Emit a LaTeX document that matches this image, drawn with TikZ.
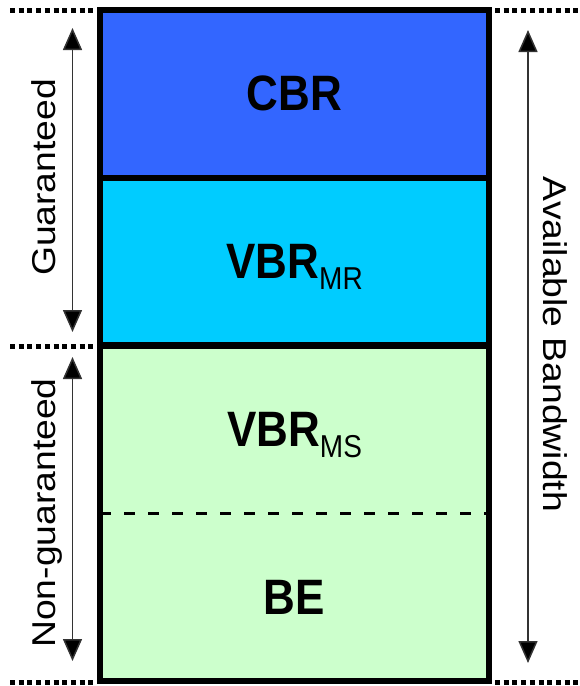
\documentclass[tikz,border=0pt]{standalone}
\usepackage{fontspec}
\setmainfont{Liberation Sans}
\usepackage{graphicx}
\usepackage{xcolor}
\usepackage{tikz}
\usetikzlibrary{
  arrows.meta,
  positioning
}
\definecolor{bandBlue}{HTML}{3366FF}
\definecolor{bandCyan}{HTML}{00CCFF}
\definecolor{bandMint}{HTML}{CCFFCC}
\definecolor{bandLine}{HTML}{000000}
\definecolor{arrowGray}{HTML}{333333}

\newcommand{\classname}[2]{\scalebox{1}[1.13]{\fontsize{44pt}{44pt}\selectfont\bfseries #1\raisebox{-9.5pt}[0pt][0pt]{\fontsize{28pt}{28pt}\selectfont\mdseries #2}}}
\newcommand{\sidename}[1]{\scalebox{1.13}[1]{\fontsize{33pt}{33pt}\selectfont #1}}

\begin{document}
\begin{tikzpicture}[
  x=1pt, y=-1pt,
  node distance=0pt,
  band/.style={
    minimum width=389pt,
    minimum height=167.75pt,
    inner sep=0pt,
    outer sep=0pt,
    align=center
  },
  frame/.style={draw=bandLine, line width=6pt},
  divider/.style={draw=bandLine, line width=6.5pt},
  split/.style={draw=bandLine, line width=3.5pt, dash pattern=on 11pt off 13pt},
  dotrule/.style={draw=bandLine, line width=5pt, dash pattern=on 5pt off 3.7pt},
  dimarrow/.style={
    {Triangle[length=22pt,width=19pt,fill=black]}-{Triangle[length=22pt,width=19pt,fill=black]},
    line width=1.5pt,
    draw=arrowGray
  },
  sidelabel/.style={inner sep=0pt, anchor=base}
]
\useasboundingbox (0,0) rectangle (579,686);

% bands
\node[band, fill=bandBlue, anchor=north] (cbr) at (294.5,10) {\classname{CBR}{}};
\node[band, fill=bandCyan, below=of cbr] (vbrmr) {\classname{VBR}{MR}};
\node[band, fill=bandMint, below=of vbrmr] (vbrms) {\classname{VBR}{MS}};
\node[band, fill=bandMint, below=of vbrms] (be) {\classname{BE}{}};

\draw[split] (vbrms.south west) -- (vbrms.south east);
\draw[divider] (cbr.south west) -- (cbr.south east);
\draw[divider] (vbrmr.south west) -- (vbrmr.south east);
\draw[frame] (cbr.north west) rectangle (be.south east);

% dotted level marks
\draw[dotrule] ([xshift=-90pt]cbr.north west) -- ([xshift=-6pt]cbr.north west);
\draw[dotrule] ([xshift=6pt]cbr.north east) -- ([xshift=90pt]cbr.north east);
\draw[dotrule] ([xshift=-90pt,yshift=-1pt]vbrms.north west) -- ([xshift=-6pt,yshift=-1pt]vbrms.north west);
\draw[dotrule] ([xshift=-90pt,yshift=-1pt]be.south west) -- ([xshift=-6pt,yshift=-1pt]be.south west);
\draw[dotrule] ([xshift=6pt,yshift=-1pt]be.south east) -- ([xshift=90pt,yshift=-1pt]be.south east);

% dimension arrows
\coordinate (gTop) at (72.5,28);
\coordinate (gBot) at (72.5,332);
\coordinate (ngTop) at (72.5,357);
\coordinate (ngBot) at (72.5,661);
\coordinate (bwTop) at (528,30);
\coordinate (bwBot) at (528,663);

\draw[dimarrow] (gTop) -- (gBot);
\draw[dimarrow] (ngTop) -- (ngBot);
\draw[dimarrow] (bwTop) -- (bwBot);

\node[sidelabel, rotate=90] (guar) at (55,177.5) {\sidename{Guaranteed}};
\node[sidelabel, rotate=90] (nonguar) at (55,513) {\sidename{Non-guaranteed}};
\node[sidelabel, rotate=-90] (avail) at (543,344.5) {\sidename{Available Bandwidth}};

\end{tikzpicture}
\end{document}
